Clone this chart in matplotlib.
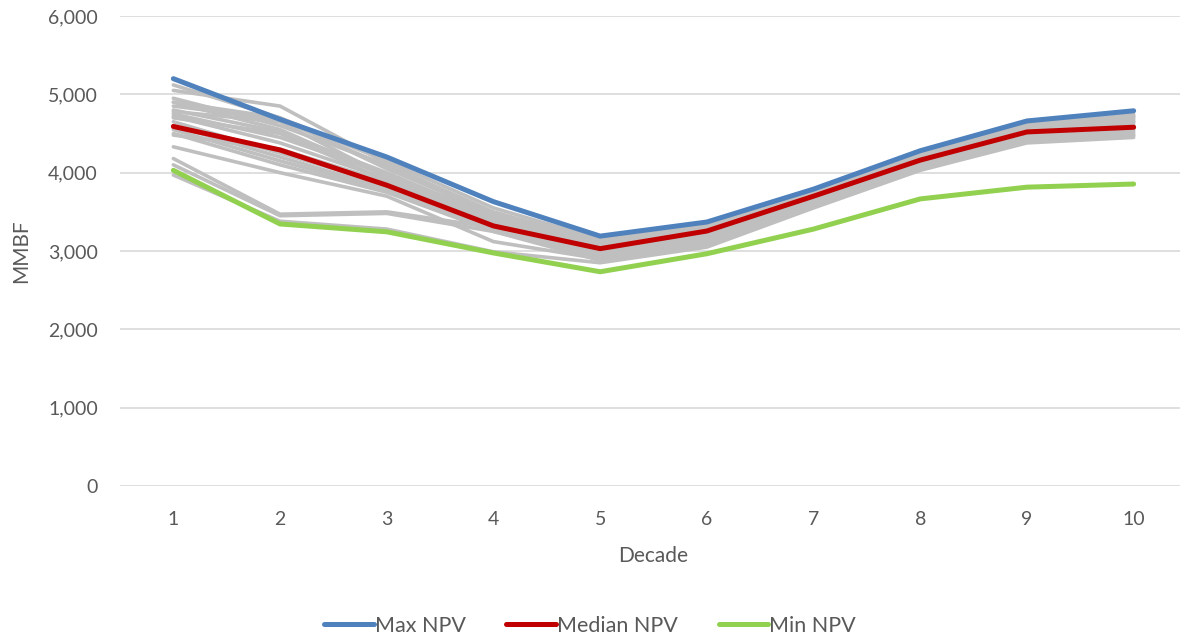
import matplotlib.pyplot as plt
from matplotlib.ticker import FuncFormatter

plt.rcParams['font.family'] = ['Lato', 'DejaVu Sans']

decades = [1, 2, 3, 4, 5, 6, 7, 8, 9, 10]

max_npv = [5200, 4680, 4200, 3630, 3190, 3370, 3790, 4280, 4660, 4790]
median_npv = [4590, 4290, 3840, 3320, 3030, 3255, 3700, 4160, 4520, 4580]
min_npv = [4030, 3345, 3245, 2975, 2735, 2965, 3280, 3665, 3815, 3855]

# other scenarios, drawn in the background
scenarios = [
    [5120, 4700, 4150, 3550, 3150, 3330, 3760, 4250, 4620, 4750],
    [5050, 4850, 4120, 3450, 3100, 3300, 3730, 4220, 4600, 4720],
    [4950, 4600, 4100, 3500, 3120, 3320, 3740, 4230, 4610, 4730],
    [4900, 4700, 4050, 3480, 3100, 3310, 3720, 4210, 4580, 4700],
    [4850, 4680, 4080, 3450, 3080, 3290, 3710, 4200, 4570, 4680],
    [4800, 4520, 4000, 3430, 3060, 3280, 3700, 4190, 4560, 4660],
    [4780, 4650, 3950, 3400, 3050, 3270, 3680, 4180, 4550, 4650],
    [4750, 4450, 3980, 3420, 3040, 3260, 3670, 4170, 4540, 4640],
    [4720, 4380, 3920, 3380, 3020, 3240, 3660, 4160, 4530, 4620],
    [4700, 4500, 3900, 3350, 3000, 3230, 3650, 4150, 4510, 4600],
    [4650, 4250, 3850, 3330, 2980, 3210, 3640, 4140, 4500, 4590],
    [4600, 4200, 3800, 3300, 2960, 3190, 3620, 4120, 4480, 4560],
    [4550, 4150, 3780, 3280, 2950, 3180, 3610, 4110, 4470, 4540],
    [4500, 4100, 3750, 3250, 2930, 3160, 3600, 4090, 4450, 4520],
    [4480, 4300, 3880, 3360, 2990, 3200, 3630, 4130, 4490, 4570],
    [4330, 4000, 3700, 3120, 2900, 3100, 3580, 4060, 4420, 4480],
    [4180, 3470, 3500, 3300, 2920, 3120, 3590, 4070, 4430, 4500],
    [4100, 3450, 3480, 3250, 2880, 3080, 3570, 4050, 4410, 4470],
    [3970, 3380, 3280, 2990, 2850, 3050, 3550, 4030, 4380, 4450],
    [4900, 4550, 3950, 3460, 3090, 3300, 3700, 4200, 4590, 4710],
]

fig = plt.figure(figsize=(11.8, 6.36), dpi=100)
ax = fig.add_axes([120 / 1180, 1 - 486 / 636, (1187 - 120) / 1180, (486 - 16) / 636])

for s in scenarios:
    ax.plot(decades, s, color='#bfbfbf', linewidth=2.6, solid_capstyle='round', zorder=2)

ax.plot(decades, max_npv, color='#4f81bd', linewidth=3.6, solid_capstyle='round', label='Max NPV', zorder=3)
ax.plot(decades, median_npv, color='#c00000', linewidth=3.6, solid_capstyle='round', label='Median NPV', zorder=3)
ax.plot(decades, min_npv, color='#92d050', linewidth=3.6, solid_capstyle='round', label='Min NPV', zorder=3)

ax.set_xlim(0.5, 10.5)
ax.set_ylim(0, 6000)
ax.set_yticks(range(0, 6001, 1000))
ax.set_xticks(decades)
ax.yaxis.set_major_formatter(FuncFormatter(lambda v, p: f'{int(v):,}'))
ax.grid(True, axis='y', color='#d9d9d9', linewidth=1.2)
ax.set_axisbelow(True)
for sp in ax.spines.values():
    sp.set_visible(False)
ax.tick_params(length=0, labelsize=14, colors='#595959')
ax.tick_params(axis='y', pad=16)
ax.tick_params(axis='x', pad=18)

ax.set_xlabel('Decade', fontsize=15, color='#595959', labelpad=13)
ax.set_ylabel('MMBF', fontsize=15, color='#595959')
ax.yaxis.set_label_coords(-0.083, 0.5)

fig.legend(loc='lower center', bbox_to_anchor=(0.5, -0.03), ncol=3, frameon=False,
           fontsize=15.5, labelcolor='#595959', handlelength=2.3, handletextpad=0.05,
           columnspacing=1.9)

fig.savefig('out.png', dpi=100)
